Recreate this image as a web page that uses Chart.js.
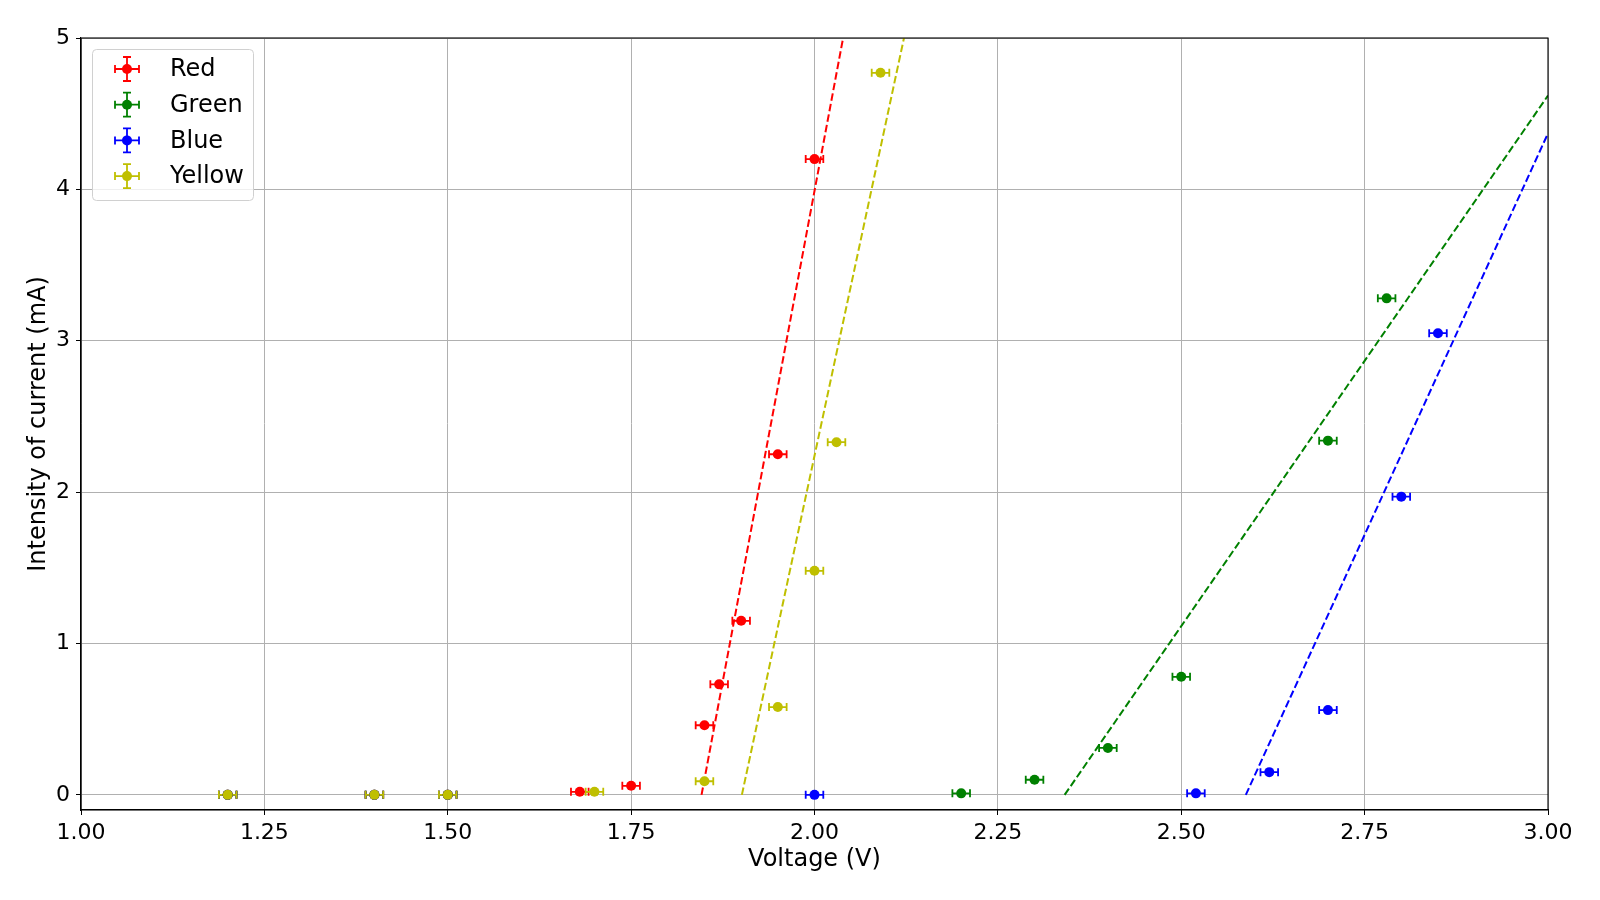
<!DOCTYPE html>
<html>
<head>
<meta charset="utf-8">
<script src="https://cdn.jsdelivr.net/npm/chart.js@4/dist/chart.umd.min.js"></script>
<style>
  body { margin: 0; background: #fff; }
  #wrap { width: 1600px; height: 900px; }
</style>
</head>
<body>
<div id="wrap"><canvas id="myChart"></canvas></div>
<script>
// measured points, voltage (V) vs current (mA)
seriesNames = ["Red", "Green", "Blue", "Yellow"];
seriesColors = ["#ff0000", "#008000", "#0000ff", "#bfbf00"];

redX = [1.2, 1.4, 1.5, 1.68, 1.75, 1.85, 1.87, 1.9, 1.95, 2.0];
redY = [0, 0, 0, 0.02, 0.06, 0.46, 0.73, 1.15, 2.25, 4.2];
greenX = [1.2, 1.4, 1.5, 2.2, 2.3, 2.4, 2.5, 2.7, 2.78];
greenY = [0, 0, 0, 0.01, 0.1, 0.31, 0.78, 2.34, 3.28];
blueX = [1.2, 1.4, 1.5, 2.0, 2.52, 2.62, 2.7, 2.8, 2.85];
blueY = [0, 0, 0, 0, 0.01, 0.15, 0.56, 1.97, 3.05];
yellowX = [1.2, 1.4, 1.5, 1.7, 1.85, 1.95, 2.0, 2.03, 2.09];
yellowY = [0, 0, 0, 0.02, 0.09, 0.58, 1.48, 2.33, 4.77];

xErr = 0.012;

// fitted lines, start and end points
redFitX = [1.846, 2.039];
redFitY = [0, 5];
greenFitX = [2.341, 3.0];
greenFitY = [0, 4.62];
blueFitX = [2.588, 3.0];
blueFitY = [0, 4.37];
yellowFitX = [1.901, 2.122];
yellowFitY = [0, 5];

xTicks = [1.0, 1.25, 1.5, 1.75, 2.0, 2.25, 2.5, 2.75, 3.0];
yTicks = [0, 1, 2, 3, 4, 5];

allX = [redX, greenX, blueX, yellowX];
allY = [redY, greenY, blueY, yellowY];
fitX = [redFitX, greenFitX, blueFitX, yellowFitX];
fitY = [redFitY, greenFitY, blueFitY, yellowFitY];

function toPoints(xs, ys) {
  let pts = [];
  for (let i = 0; i < xs.length; i++) {
    pts.push({ x: xs[i], y: ys[i] });
  }
  return pts;
}

datasets = [];
for (let s = 0; s < seriesNames.length; s++) {
  datasets.push({
    label: seriesNames[s],
    data: toPoints(allX[s], allY[s]),
    showLine: false,
    pointRadius: 5,
    pointHoverRadius: 5,
    pointBackgroundColor: seriesColors[s],
    pointBorderWidth: 0,
    borderColor: seriesColors[s],
    order: 10 - s * 2,
  });
  datasets.push({
    label: seriesNames[s] + " fit",
    data: toPoints(fitX[s], fitY[s]),
    showLine: true,
    pointRadius: 0,
    borderColor: seriesColors[s],
    borderWidth: 2,
    borderDash: [7.5, 3.2],
    fill: false,
    order: 9 - s * 2,
  });
}

tickFont = { family: "'DejaVu Sans', sans-serif", size: 22 };
titleFont = { family: "'DejaVu Sans', sans-serif", size: 24 };

errorBars = {
  id: "errorBars",
  beforeDatasetsDraw: function (chart) {
    let ctx = chart.ctx;
    let xs = chart.scales.x;
    let ys = chart.scales.y;
    ctx.save();
    ctx.beginPath();
    ctx.rect(chart.chartArea.left, chart.chartArea.top, chart.chartArea.width, chart.chartArea.height);
    ctx.clip();
    ctx.lineWidth = 1.8;
    for (let s = 0; s < seriesNames.length; s++) {
      ctx.strokeStyle = seriesColors[s];
      for (let i = 0; i < allX[s].length; i++) {
        let x1 = xs.getPixelForValue(allX[s][i] - xErr);
        let x2 = xs.getPixelForValue(allX[s][i] + xErr);
        let py = ys.getPixelForValue(allY[s][i]);
        ctx.beginPath();
        ctx.moveTo(x1, py);
        ctx.lineTo(x2, py);
        ctx.moveTo(x1, py - 4);
        ctx.lineTo(x1, py + 4);
        ctx.moveTo(x2, py - 4);
        ctx.lineTo(x2, py + 4);
        ctx.stroke();
      }
    }
    ctx.restore();
  },
  afterDraw: function (chart) {
    let ctx = chart.ctx;
    let a = chart.chartArea;
    ctx.save();
    // frame
    ctx.strokeStyle = "#000";
    ctx.lineWidth = 1.1;
    ctx.strokeRect(a.left, a.top, a.right - a.left, a.bottom - a.top);

    // legend
    let bx = a.left + 11, by = a.top + 11, bw = 161, bh = 151;
    ctx.beginPath();
    ctx.roundRect(bx + 0.5, by + 0.5, bw, bh, 4);
    ctx.fillStyle = "rgba(255,255,255,0.8)";
    ctx.fill();
    ctx.strokeStyle = "#d0d0d0";
    ctx.lineWidth = 1;
    ctx.stroke();
    ctx.font = "24px 'DejaVu Sans', sans-serif";
    ctx.textBaseline = "middle";
    ctx.textAlign = "left";
    for (let s = 0; s < seriesNames.length; s++) {
      let cy = by + 20 + s * 35.7;
      let cx = bx + 35;
      ctx.strokeStyle = seriesColors[s];
      ctx.lineWidth = 1.8;
      ctx.beginPath();
      ctx.moveTo(cx - 12, cy);
      ctx.lineTo(cx + 12, cy);
      ctx.moveTo(cx, cy - 12);
      ctx.lineTo(cx, cy + 12);
      ctx.moveTo(cx - 12, cy - 4);
      ctx.lineTo(cx - 12, cy + 4);
      ctx.moveTo(cx + 12, cy - 4);
      ctx.lineTo(cx + 12, cy + 4);
      ctx.moveTo(cx - 4, cy - 12);
      ctx.lineTo(cx + 4, cy - 12);
      ctx.moveTo(cx - 4, cy + 12);
      ctx.lineTo(cx + 4, cy + 12);
      ctx.stroke();
      ctx.fillStyle = seriesColors[s];
      ctx.beginPath();
      ctx.arc(cx, cy, 5, 0, Math.PI * 2);
      ctx.fill();
      ctx.fillStyle = "#000";
      ctx.fillText(seriesNames[s], bx + 78, cy + 1);
    }
    ctx.restore();
  },
};

config = {
  type: "scatter",
  data: { datasets: datasets },
  options: {
    animation: false,
    responsive: true,
    maintainAspectRatio: false,
    layout: { padding: { top: 38, right: 52, left: 0, bottom: 0 } },
    plugins: {
      legend: { display: false },
      tooltip: { enabled: false },
    },
    scales: {
      x: {
        type: "linear",
        min: 1,
        max: 3,
        afterBuildTicks: function (scale) {
          scale.ticks = xTicks.map(function (v) { return { value: v }; });
        },
        afterFit: function (scale) { scale.height = 90; },
        ticks: {
          color: "#000",
          font: tickFont,
          padding: 5,
          maxRotation: 0,
          callback: function (v) { return v.toFixed(2); },
        },
        grid: { color: "#b0b0b0", tickColor: "#000", tickLength: 5, lineWidth: 1 },
        border: { display: true, color: "#000", width: 1.1 },
        title: { display: true, text: "Voltage (V)", color: "#000", font: titleFont, padding: { top: 0, bottom: 26 } },
      },
      y: {
        type: "linear",
        min: -0.1,
        max: 5,
        afterBuildTicks: function (scale) {
          scale.ticks = yTicks.map(function (v) { return { value: v }; });
        },
        afterFit: function (scale) { scale.width = 81; },
        ticks: {
          color: "#000",
          font: tickFont,
          padding: 6,
          callback: function (v) { return String(v); },
        },
        grid: { color: "#b0b0b0", tickColor: "#000", tickLength: 5, lineWidth: 1 },
        border: { display: true, color: "#000", width: 1.1 },
        title: { display: true, text: "Intensity of current (mA)", color: "#000", font: titleFont, padding: { top: 24, bottom: 0 } },
      },
    },
  },
  plugins: [errorBars],
};

myChart = new Chart(document.getElementById("myChart"), config);
</script>
</body>
</html>
